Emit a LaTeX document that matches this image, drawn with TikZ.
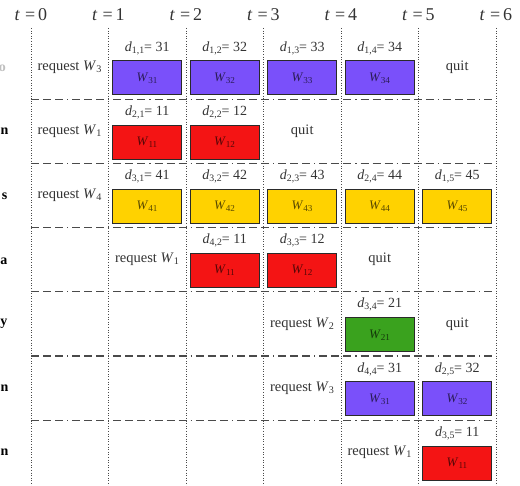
\documentclass[tikz,border=0pt]{standalone}
\usepackage{fontspec}
\setmainfont{Liberation Serif}
\definecolor{txtgray}{HTML}{333333}
\definecolor{linegray}{HTML}{4A4A4A}
\definecolor{boxline}{HTML}{2A2A2A}
\definecolor{wpurple}{HTML}{7A50FA}
\definecolor{wred}{HTML}{F41414}
\definecolor{wyellow}{HTML}{FFD200}
\definecolor{wgreen}{HTML}{3AA21E}
\newcommand\colx[1]{31+77.5*(#1)}
\newcommand\rowy[1]{35+64.2*((#1)-1)}
% name, col, row, colour, W subscript, d subscript, d value
\newcommand\wbx[7]{%
  \node[wbox, fill=#4, text=#4!35!black] (b#1) at ({\colx{#2+0.5}},{\rowy{#3}+43}) {\textit{W}\textsubscript{#5}};
  \node[dlab] (d#1) at ({\colx{#2+0.5}},{\rowy{#3}+13}) {\textit{d}\textsubscript{#6}\kern-0.5pt= #7};
}
\newcommand\reqn[4]{% name, col, row, subscript
  \node[req] (#1) at ({\colx{#2+0.5}},{\rowy{#3}+32}) {request \textit{W}\textsubscript{#4}};
}
\newcommand\quitn[3]{%
  \node[req] (#1) at ({\colx{#2+0.5}},{\rowy{#3}+32}) {quit};
}
\begin{document}
\begin{tikzpicture}[x=1pt,y=-1pt,
  txt/.style={text=txtgray, inner sep=0pt},
  tlab/.style={txt, font=\fontsize{18}{18}\selectfont},
  req/.style={txt, font=\fontsize{14.5}{14.5}\selectfont},
  dlab/.style={txt, font=\fontsize{14}{14}\selectfont},
  rlab/.style={text=black, inner sep=0pt, anchor=east, font=\bfseries\fontsize{14}{14}\selectfont},
  wbox/.style={draw=boxline, line width=1pt, minimum width=69pt, minimum height=34pt, inner sep=0pt, font=\fontsize{13}{13}\selectfont},
  vline/.style={draw=linegray, line width=1pt, dash pattern=on 1pt off 1.6pt},
  hline/.style={draw=linegray, line width=1.3pt, dash pattern=on 8pt off 4pt on 8pt off 4pt on 8pt off 4pt on 1.2pt off 4pt}]
\useasboundingbox (0,0) rectangle (520,486);
% time grid
\foreach \k in {0,...,6}{
  \coordinate (vt\k) at ({\colx{\k}},28);
  \coordinate (vb\k) at ({\colx{\k}},486);
  \draw[vline] (vt\k) -- (vb\k);
  \node[tlab] (t\k) at ({\colx{\k}},15) {\textit{t}\hspace{5pt}=\hspace{3pt}\k};
}
\foreach \r in {2,...,7}{
  \coordinate (hl\r) at ({\colx{0}},{\rowy{\r}});
  \coordinate (hr\r) at ({\colx{6}},{\rowy{\r}});
  \draw[hline] (hl\r) -- (hr\r);
}
% row labels (cut at the left edge)
\node[rlab, text=black!25] (l1) at (6,{\rowy{1}+33}) {o};
\node[rlab] (l2) at (8.5,{\rowy{2}+32}) {n};
\node[rlab] (l3) at (7.5,{\rowy{3}+33}) {s};
\node[rlab] (l4) at (7.5,{\rowy{4}+34}) {a};
\node[rlab] (l5) at (7.5,{\rowy{5}+32}) {y};
\node[rlab] (l6) at (8.5,{\rowy{6}+32}) {n};
\node[rlab] (l7) at (8.5,{\rowy{7}+32}) {n};
% row 1
\reqn{q1}{0}{1}{3}
\wbx{11}{1}{1}{wpurple}{31}{1,1}{31}
\wbx{12}{2}{1}{wpurple}{32}{1,2}{32}
\wbx{13}{3}{1}{wpurple}{33}{1,3}{33}
\wbx{14}{4}{1}{wpurple}{34}{1,4}{34}
\quitn{x1}{5}{1}
% row 2
\reqn{q2}{0}{2}{1}
\wbx{21}{1}{2}{wred}{11}{2,1}{11}
\wbx{22}{2}{2}{wred}{12}{2,2}{12}
\quitn{x2}{3}{2}
% row 3
\reqn{q3}{0}{3}{4}
\wbx{31}{1}{3}{wyellow}{41}{3,1}{41}
\wbx{32}{2}{3}{wyellow}{42}{3,2}{42}
\wbx{33}{3}{3}{wyellow}{43}{2,3}{43}
\wbx{34}{4}{3}{wyellow}{44}{2,4}{44}
\wbx{35}{5}{3}{wyellow}{45}{1,5}{45}
% row 4
\reqn{q4}{1}{4}{1}
\wbx{42}{2}{4}{wred}{11}{4,2}{11}
\wbx{43}{3}{4}{wred}{12}{3,3}{12}
\quitn{x4}{4}{4}
% row 5
\reqn{q5}{3}{5}{2}
\wbx{54}{4}{5}{wgreen}{21}{3,4}{21}
\quitn{x5}{5}{5}
% row 6
\reqn{q6}{3}{6}{3}
\wbx{64}{4}{6}{wpurple}{31}{4,4}{31}
\wbx{65}{5}{6}{wpurple}{32}{2,5}{32}
% row 7
\reqn{q7}{4}{7}{1}
\wbx{75}{5}{7}{wred}{11}{3,5}{11}
\end{tikzpicture}
\end{document}
